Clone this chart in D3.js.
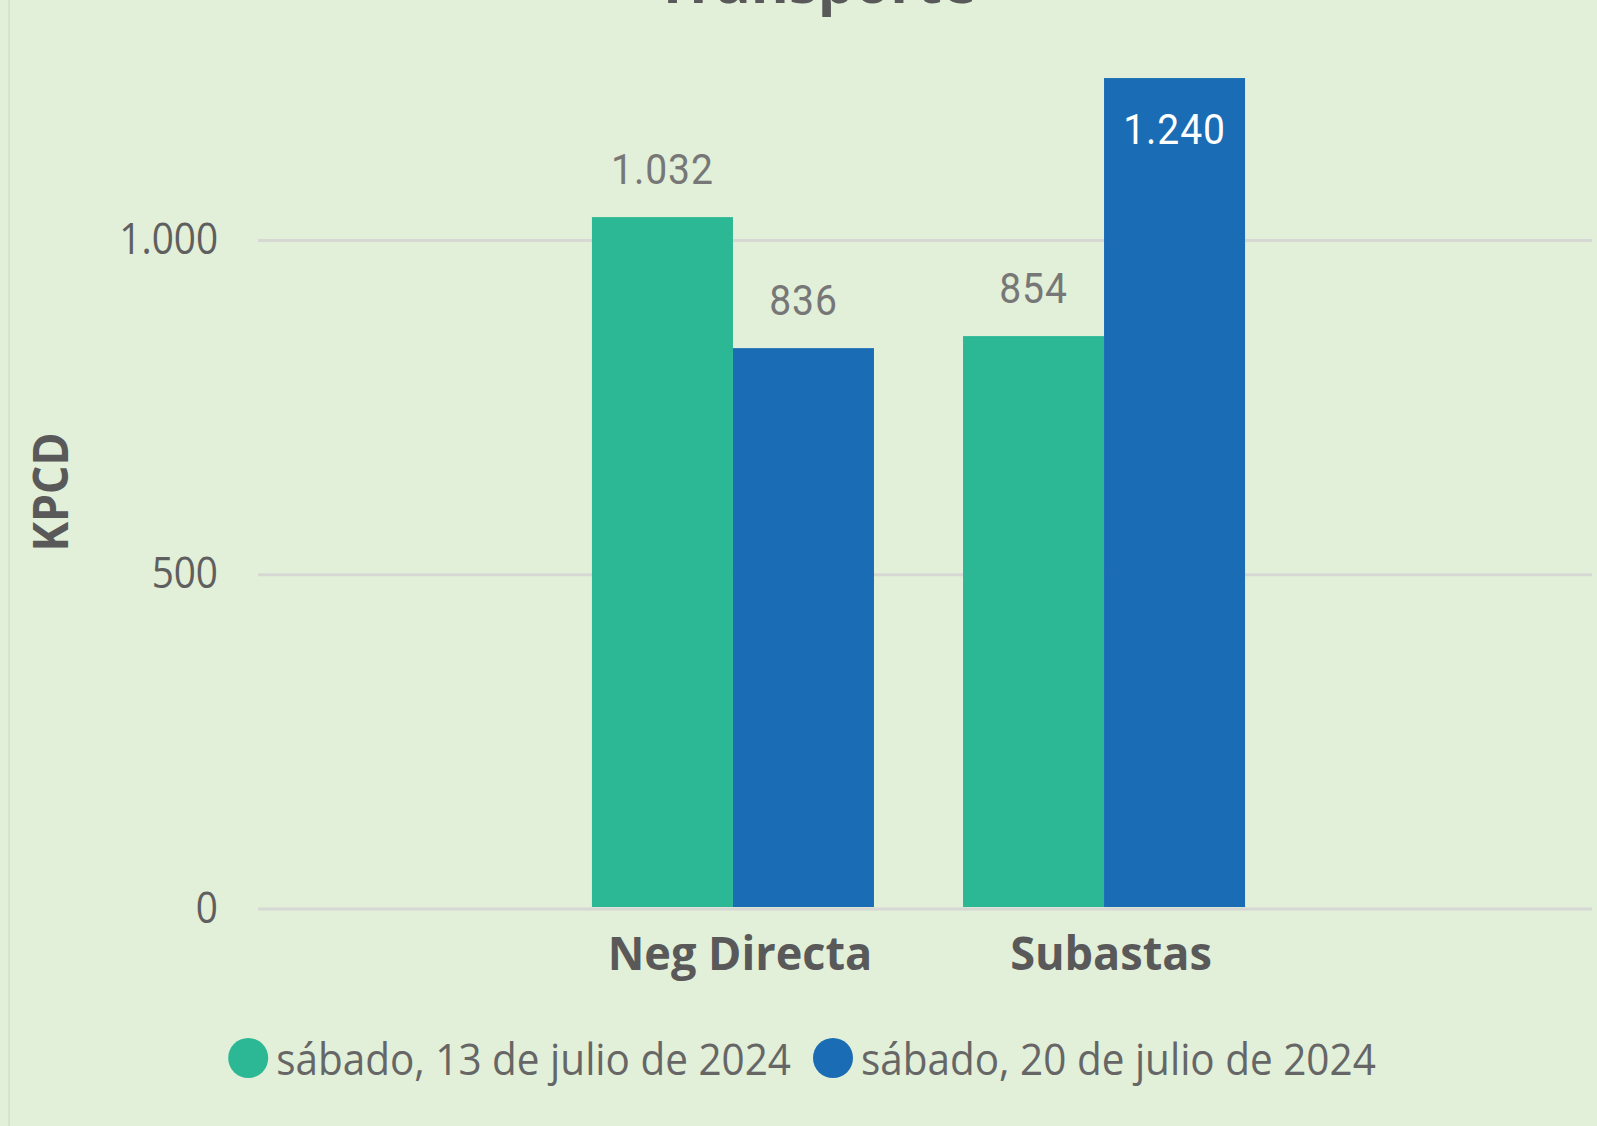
<!DOCTYPE html>
<html>
<head>
<meta charset="utf-8">
<script src="https://cdn.jsdelivr.net/npm/d3@7"></script>
<style>
  html, body { margin: 0; padding: 0; background: #E2EFD9; }
  svg { display: block; }
</style>
</head>
<body>
<svg id="chart" width="1597" height="1126"></svg>
<script>
// ---- data ----
const title = "Transporte";
const yAxisTitle = "KPCD";
const categories = ["Neg Directa", "Subastas"];
const seriesNames = ["sábado, 13 de julio de 2024", "sábado, 20 de julio de 2024"];
const seriesColors = ["#2CB894", "#1A6CB4"];
const values13 = [1032, 854];
const values20 = [836, 1240];
const yTicks = [0, 500, 1000];

// ---- setup ----
const W = 1597, H = 1126;
const svg = d3.select("#chart");
svg.append("rect").attr("width", W).attr("height", H).attr("fill", "#E2EFD9");
svg.append("line").attr("x1", 9).attr("x2", 9).attr("y1", 0).attr("y2", H)
  .attr("stroke", "#d6e4cd").attr("stroke-width", 2);

const loc = d3.formatLocale({ decimal: ",", thousands: ".", grouping: [3], currency: ["", "€"] });
const fmt = loc.format(",d");

const plotLeft = 258, plotRight = 1592;
const y = d3.scaleLinear().domain([0, 1000]).range([907, 238.5]);
const x0 = d3.scaleBand().domain(categories).range([258, 1579]).paddingInner(0.24).paddingOuter(0.9);
const x1 = d3.scaleBand().domain(seriesNames).range([0, x0.bandwidth()]).padding(0);

const rows = categories.map((c, i) => ({
  cat: c,
  vals: [{ s: seriesNames[0], v: values13[i], c: seriesColors[0] },
         { s: seriesNames[1], v: values20[i], c: seriesColors[1] }]
}));

// title (cut off at the top edge, as in the original)
svg.append("text").attr("x", 816).attr("y", 3)
  .attr("text-anchor", "middle")
  .attr("font-family", "'Open Sans', sans-serif").attr("font-weight", 700)
  .attr("font-size", 58).attr("fill", "#595959").text(title);

// gridlines
svg.append("g").selectAll("line").data(yTicks).join("line")
  .attr("x1", plotLeft).attr("x2", plotRight)
  .attr("y1", d => y(d) + 2).attr("y2", d => y(d) + 2)
  .attr("stroke", "#D6D8D4").attr("stroke-width", 3);

// y axis (labels only)
const yAxis = d3.axisLeft(y).tickValues(yTicks).tickSize(0).tickPadding(0).tickFormat(fmt);
const gy = svg.append("g").attr("transform", "translate(218,0)").call(yAxis);
gy.select(".domain").remove();
gy.selectAll("text")
  .attr("font-family", "'Open Sans', sans-serif").attr("font-size", 43)
  .attr("fill", "#5f5f5f").attr("dy", "0.35em")
  .attr("transform", "scale(0.9,1)");

// y title
svg.append("text")
  .attr("transform", "translate(68,492) rotate(-90) scale(0.93,1)")
  .attr("text-anchor", "middle")
  .attr("font-family", "'Open Sans', sans-serif").attr("font-weight", 700)
  .attr("font-size", 48).attr("fill", "#595959").text(yAxisTitle);

// bars
const groups = svg.append("g").selectAll("g").data(rows).join("g")
  .attr("transform", d => `translate(${x0(d.cat)},0)`);
groups.selectAll("rect").data(d => d.vals).join("rect")
  .attr("x", d => x1(d.s)).attr("width", x1.bandwidth())
  .attr("y", d => y(d.v)).attr("height", d => y(0) - y(d.v))
  .attr("fill", d => d.c);

// data labels
const isInside = d => y(d.v) - 63 < 60;
groups.selectAll("g.lbl").data(d => d.vals).join("g").attr("class", "lbl")
  .attr("transform", d => {
    const ty = isInside(d) ? y(d.v) + 66 : y(d.v) - 33;
    return `translate(${x1(d.s) + x1.bandwidth() / 2},${ty}) scale(0.93,1)`;
  })
  .append("text").attr("text-anchor", "middle")
  .attr("font-family", "Roboto, sans-serif").attr("font-size", 42)
  .attr("letter-spacing", 1)
  .attr("fill", d => isInside(d) ? "#ffffff" : "#777777")
  .text(d => fmt(d.v));

// x category labels
svg.append("g").selectAll("g").data(categories).join("g")
  .attr("transform", d => `translate(${x0(d) + x0.bandwidth() / 2 + 7},970) scale(0.98,1)`)
  .append("text")
  .attr("text-anchor", "middle")
  .attr("font-family", "'Open Sans', sans-serif").attr("font-weight", 700)
  .attr("font-size", 46).attr("fill", "#595959").text(d => d);

// legend
const legend = svg.append("g");
const items = legend.selectAll("g").data(seriesNames).join("g");
items.append("circle").attr("r", 20).attr("cx", 0).attr("cy", 1058)
  .attr("fill", (d, i) => seriesColors[i]);
items.append("text").attr("x", 0).attr("y", 1075)
  .attr("font-family", "'Open Sans', sans-serif").attr("font-size", 44)
  .attr("fill", "#666666").attr("transform", "scale(0.92,1)")
  .text(d => d);
// layout
let cx = 0;
const pos = [];
items.each(function (d, i) {
  const t = d3.select(this).select("text");
  const tw = t.node().getComputedTextLength() * 0.92;
  pos.push({ start: cx, tw });
  cx += 40 + 8 + tw + 22;
});
const total = cx - 22;
const startX = 802 - total / 2;
items.each(function (d, i) {
  const g = d3.select(this);
  const p = pos[i];
  g.select("circle").attr("cx", startX + p.start + 20);
  g.select("text").attr("x", (startX + p.start + 48) / 0.92);
});
</script>
</body>
</html>
